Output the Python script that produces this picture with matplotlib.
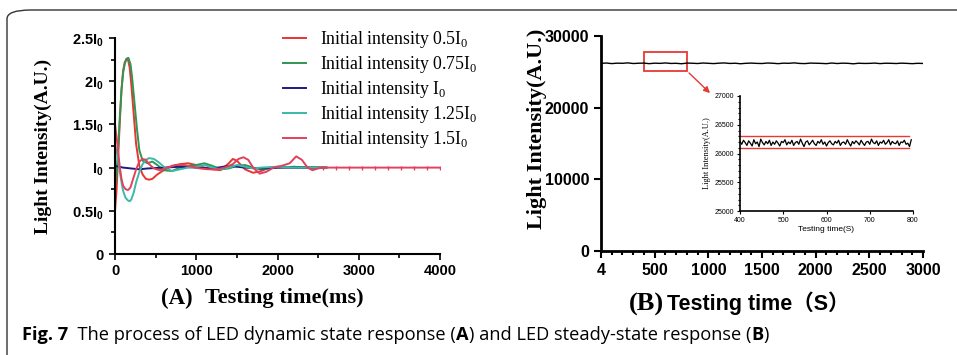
import matplotlib
matplotlib.use('Agg')
import matplotlib.pyplot as plt
from matplotlib.patches import FancyBboxPatch, Rectangle, FancyArrowPatch
from matplotlib.ticker import MultipleLocator

plt.rcParams.update({'font.family': 'Liberation Sans', 'mathtext.fontset': 'custom',
                     'mathtext.rm': 'Liberation Serif', 'mathtext.bf': 'Liberation Sans:bold'})

# (A) dynamic response, time in ms, intensity in units of I0
t_05 = [0, 20, 40, 60, 80, 100, 120, 140, 160, 180, 200, 230, 260, 300, 340, 380, 420, 460, 520, 600,
        700, 800, 900, 1000, 1100, 1200, 1300, 1400, 1450, 1500, 1600, 1700, 1800, 1900, 2000, 2200, 2400, 2600]
v_05 = [0.5, 0.75, 1.15, 1.55, 1.9, 2.12, 2.22, 2.25, 2.25, 2.16, 1.97, 1.62, 1.27, 1.02, 0.92, 0.87, 0.86, 0.87, 0.92, 0.97,
        1.02, 1.04, 1.05, 1.03, 1.0, 0.98, 0.97, 1.05, 1.1, 1.08, 0.98, 0.94, 0.96, 1.0, 1.01, 1.0, 1.0, 1.0]

t_075 = [0, 20, 40, 60, 80, 100, 120, 140, 165, 190, 210, 240, 270, 300, 340, 400, 460, 520, 600, 700,
         800, 900, 1000, 1100, 1200, 1300, 1400, 1500, 1600, 1700, 1800, 2000, 2200, 2400, 2600]
v_075 = [0.75, 0.95, 1.25, 1.6, 1.9, 2.1, 2.2, 2.26, 2.27, 2.2, 2.05, 1.75, 1.45, 1.2, 1.08, 1.05, 1.07, 1.03, 0.97, 0.96,
         1.0, 1.02, 1.03, 1.05, 1.02, 0.98, 0.99, 1.02, 1.03, 1.0, 0.98, 1.0, 1.01, 1.0, 1.0]

t_1 = [0, 50, 100, 200, 300, 400, 600, 800, 1000, 1200, 1400, 1600, 1800, 2000, 2200, 2400, 2600]
v_1 = [1.02, 1.01, 1.0, 0.99, 0.98, 0.99, 1.0, 1.01, 1.0, 0.99, 1.02, 1.0, 0.99, 1.0, 1.0, 1.0, 1.0]

t_125 = [0, 20, 40, 60, 80, 100, 130, 160, 180, 200, 230, 260, 300, 340, 380, 420, 480, 540, 600, 700,
         800, 900, 1000, 1100, 1200, 1300, 1400, 1500, 1600, 1700, 1800, 2000, 2200, 2400, 2600]
v_125 = [1.25, 1.2, 1.08, 0.95, 0.83, 0.73, 0.65, 0.62, 0.61, 0.63, 0.71, 0.83, 0.95, 1.04, 1.09, 1.11, 1.1, 1.06, 1.01, 0.96,
         0.98, 1.0, 1.01, 1.03, 1.0, 0.98, 1.0, 1.03, 1.01, 0.99, 1.0, 1.01, 1.0, 1.0, 1.0]

t_15 = [0, 20, 40, 60, 80, 100, 130, 160, 190, 220, 260, 300, 340, 380, 420, 480, 550, 650, 750, 850,
        950, 1050, 1150, 1250, 1350, 1450, 1520, 1580, 1640, 1700, 1780, 1860, 1950, 2050, 2150, 2230, 2300,
        2370, 2430, 2500, 2560, 2720, 2880, 3040, 3200, 3360, 3520, 3680, 3840, 4000]
v_15 = [1.5, 1.35, 1.17, 1.0, 0.87, 0.79, 0.75, 0.74, 0.77, 0.86, 0.98, 1.07, 1.1, 1.09, 1.04, 0.99, 0.97, 1.0, 1.03, 1.03,
        1.01, 0.99, 0.98, 0.98, 1.0, 1.04, 1.1, 1.12, 1.09, 1.0, 0.93, 0.95, 1.0, 1.02, 1.05, 1.13, 1.09,
        1.0, 0.97, 0.99, 1.0, 1.0, 1.0, 1.0, 1.0, 1.0, 1.0, 1.0, 1.0, 1.0]

labels_a = [r'Initial intensity 0.5I$_\mathrm{0}$', r'Initial intensity 0.75I$_\mathrm{0}$',
            r'Initial intensity I$_\mathrm{0}$', r'Initial intensity 1.25I$_\mathrm{0}$',
            r'Initial intensity 1.5I$_\mathrm{0}$']
colors_a = ['#e8352f', '#2e9552', '#1c1a80', '#3cb8a8', '#e2405c']
yticks_a = [0, 0.5, 1.0, 1.5, 2.0, 2.5]
yticklabels_a = ['0', r'0.5I$_\mathbf{0}$', r'I$_\mathbf{0}$', r'1.5I$_\mathbf{0}$', r'2I$_\mathbf{0}$', r'2.5I$_\mathbf{0}$']

# (B) steady-state response, time in s
t_main = list(range(0, 3001, 50))
v_main = [26180, 26230, 26150, 26210, 26190, 26250, 26160, 26200, 26220, 26140,
          26210, 26180, 26240, 26170, 26190, 26130, 26220, 26200, 26160, 26230,
          26190, 26150, 26210, 26240, 26170, 26200, 26130, 26190, 26220, 26180,
          26160, 26230, 26200, 26140, 26210, 26190, 26250, 26170, 26150, 26220,
          26200, 26180, 26140, 26230, 26160, 26210, 26190, 26120, 26200, 26170,
          26180, 26220, 26150, 26200, 26190, 26160, 26210, 26180, 26140, 26190, 26170]

t_inset = list(range(400, 800, 4))
v_inset = [26210, 26160, 26230, 26190, 26140, 26220, 26180, 26130, 26240, 26170,
           26200, 26120, 26250, 26190, 26150, 26210, 26170, 26230, 26140, 26200,
           26160, 26220, 26180, 26130, 26210, 26190, 26240, 26150, 26200, 26170,
           26230, 26140, 26190, 26210, 26160, 26250, 26180, 26120, 26200, 26220,
           26150, 26190, 26230, 26170, 26140, 26210, 26180, 26240, 26160, 26200,
           26130, 26190, 26220, 26170, 26150, 26210, 26180, 26230, 26140, 26190,
           26200, 26160, 26240, 26180, 26130, 26210, 26170, 26220, 26190, 26150,
           26230, 26180, 26140, 26200, 26210, 26160, 26250, 26190, 26170, 26220,
           26140, 26200, 26180, 26230, 26160, 26190, 26240, 26150, 26210, 26180,
           26170, 26220, 26140, 26200, 26190, 26230, 26160, 26180, 26120, 26240]
band_lo, band_hi = 26090, 26305

caption = [('Fig. 7', 'bold'), ('  The process of LED dynamic state response (', 'normal'), ('A', 'bold'),
           (') and LED steady-state response (', 'normal'), ('B', 'bold'), (')', 'normal')]

fig = plt.figure(figsize=(9.57, 3.55), dpi=100)

# rounded frame of the figure panel
fig.patches.append(FancyBboxPatch((7 / 957, -0.2), 1.2, 1 - 10 / 355 + 0.2, transform=fig.transFigure,
                                  boxstyle='round,pad=0,rounding_size=0.025', fc='none', ec='#333333', lw=1.0))

# ---------- panel A ----------
ax = fig.add_axes([115 / 957, 1 - 254 / 355, 325 / 957, 216 / 355])
series = [(t_05, v_05), (t_075, v_075), (t_1, v_1), (t_125, v_125), (t_15, v_15)]
for (t, v), c, lab in zip(series, colors_a, labels_a):
    ax.plot(t, v, color=c, lw=1.4, label=lab)
ax.plot(t_15[40:], v_15[40:], ls='none', marker='|', ms=3, color=colors_a[4])
ax.set_xlim(0, 4000)
ax.set_ylim(0, 2.5)
ax.set_yticks(yticks_a)
ax.set_yticklabels(yticklabels_a)
ax.yaxis.set_minor_locator(MultipleLocator(0.25))
ax.set_xticks([0, 1000, 2000, 3000, 4000])
ax.xaxis.set_minor_locator(MultipleLocator(500))
for s in ['top', 'right']:
    ax.spines[s].set_visible(False)
for s in ['left', 'bottom']:
    ax.spines[s].set_linewidth(1.5)
ax.tick_params(which='both', direction='out', width=1.2, labelsize=10.5)
ax.tick_params(which='major', length=4)
ax.tick_params(which='minor', length=3)
for lbl in ax.get_xticklabels() + ax.get_yticklabels():
    lbl.set_fontweight('bold')
ax.tick_params(axis='y', pad=4)
leg = ax.legend(loc='upper left', bbox_to_anchor=(276 / 957, 1 - 22 / 355), bbox_transform=fig.transFigure,
                frameon=False, prop={'family': 'Liberation Serif', 'size': 12.8}, handlelength=1.3,
                handletextpad=0.75, labelspacing=0.22, borderaxespad=0)
fig.text(43 / 957, 1 - 146 / 355, 'Light Intensity(A.U.)', family='Liberation Serif', fontweight='bold',
         fontsize=14, rotation=90, ha='center', va='center')

fig.text(177 / 957, 1 - 298 / 355, '(A)', family='Liberation Serif', fontweight='bold', fontsize=16.5,
         ha='center', va='center')
fig.text(205 / 957, 1 - 298 / 355, 'Testing time(ms)', family='Liberation Serif', fontweight='bold', fontsize=16,
         ha='left', va='center')

# ---------- panel B ----------
bx = fig.add_axes([601 / 957, 1 - 251 / 355, 322 / 957, 215 / 355])
bx.plot(t_main, v_main, color='black', lw=1.0)
bx.add_patch(Rectangle((400, 25100), 400, 2650, fc='none', ec='#e53935', lw=1.3))
bx.set_xlim(0, 3000)
bx.set_ylim(0, 30000)
bx.set_xticks([0, 500, 1000, 1500, 2000, 2500, 3000])
bx.set_xticklabels(['4', '500', '1000', '1500', '2000', '2500', '3000'])
bx.xaxis.set_minor_locator(MultipleLocator(100))
bx.set_yticks([0, 10000, 20000, 30000])
for s in ['top', 'right']:
    bx.spines[s].set_visible(False)
for s in ['left', 'bottom']:
    bx.spines[s].set_linewidth(2)
bx.tick_params(which='both', direction='out', width=1.5, labelsize=11.5)
bx.tick_params(which='major', length=5)
bx.tick_params(which='minor', length=3)
for lbl in bx.get_xticklabels() + bx.get_yticklabels():
    lbl.set_fontweight('bold')
fig.text(537 / 957, 1 - 129 / 355, 'Light Intensity(A.U.)', family='Liberation Serif', fontweight='bold',
         fontsize=16, rotation=90, ha='center', va='center')

fig.text(646 / 957, 1 - 304 / 355, '(B)', family='Liberation Serif', fontweight='bold', fontsize=19,
         ha='center', va='center')
fig.text(667 / 957, 1 - 303 / 355, 'Testing time（S）', family=['Liberation Sans', 'Noto Sans CJK SC'],
         fontweight='bold', fontsize=15.5, ha='left', va='center')

# arrow from the zoom box to the inset
fig.patches.append(FancyArrowPatch((687 / 957, 1 - 71 / 355), (712 / 957, 1 - 95 / 355),
                                   transform=fig.transFigure, arrowstyle='-|>',
                                   mutation_scale=9, color='#e53935', lw=1.0))

# ---------- inset ----------
ix = fig.add_axes([740 / 957, 1 - 211 / 355, 173 / 957, 115 / 355])
ix.plot(t_inset, v_inset, color='black', lw=0.9)
ix.plot([400, 790], [band_hi, band_hi], color='#e53935', lw=1.0)
ix.plot([400, 790], [band_lo, band_lo], color='#e53935', lw=1.0)
ix.set_xlim(400, 800)
ix.set_ylim(25000, 27000)
ix.set_xticks([400, 500, 600, 700, 800])
ix.set_yticks([25000, 25500, 26000, 26500, 27000])
ix.yaxis.set_minor_locator(MultipleLocator(100))
for s in ['top', 'right']:
    ix.spines[s].set_visible(False)
for s in ['left', 'bottom']:
    ix.spines[s].set_linewidth(1.2)
ix.tick_params(which='both', direction='out', width=0.8, labelsize=5, pad=1.5)
ix.tick_params(which='major', length=2.5)
ix.tick_params(which='minor', length=1.5)
ix.set_ylabel('Light Intensity(A.U.)', family='Liberation Serif', fontsize=6, labelpad=3)
ix.set_xlabel('Testing time(S)', fontsize=6, labelpad=2)

# caption, pieces chained left to right and scaled to the reference width
fig.canvas.draw()
renderer = fig.canvas.get_renderer()
size = 11.0
total = 0
for txt, w in caption:
    tt = fig.text(0, 0, txt, family='Open Sans', fontweight=w, fontsize=size)
    total += tt.get_window_extent(renderer).width
    tt.remove()
size = size * (770 - 22) / total
x = 22
for txt, w in caption:
    tt = fig.text(x / 957, 1 - 335 / 355, txt, family='Open Sans', fontweight=w, fontsize=size, va='center')
    x += tt.get_window_extent(renderer).width

plt.savefig('out.png', dpi=100)
